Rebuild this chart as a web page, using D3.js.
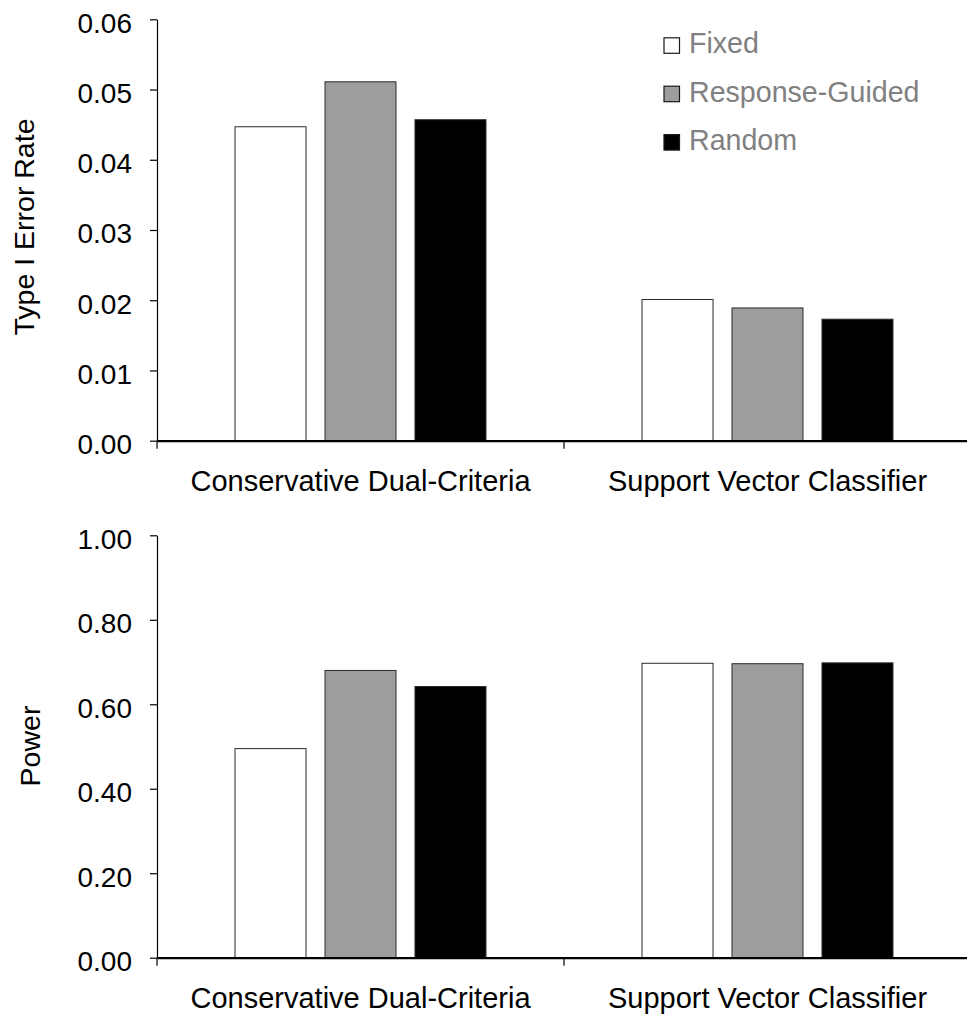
<!DOCTYPE html>
<html>
<head>
<meta charset="utf-8">
<script src="https://cdn.jsdelivr.net/npm/d3@7"></script>
<style>
  html, body { margin: 0; padding: 0; background: #fff; }
  svg { display: block; font-family: "Liberation Sans", Arial, sans-serif; }
</style>
</head>
<body>
<svg id="chart" width="967" height="1015"></svg>
<script>
// ---- data ----
const categories = ["Conservative Dual-Criteria", "Support Vector Classifier"];
const seriesNames = ["Fixed", "Response-Guided", "Random"];
const seriesColors = ["#ffffff", "#9d9d9d", "#000000"];
const typeIErrorFixed = [0.0447, 0.0201];
const typeIErrorResponseGuided = [0.0511, 0.0189];
const typeIErrorRandom = [0.0457, 0.0173];
const powerFixed = [0.495, 0.697];
const powerResponseGuided = [0.680, 0.696];
const powerRandom = [0.642, 0.698];
const typeITicks = [0, 0.01, 0.02, 0.03, 0.04, 0.05, 0.06];
const powerTicks = [0, 0.2, 0.4, 0.6, 0.8, 1.0];

const svg = d3.select("#chart");

const x0 = d3.scaleBand().domain(categories).range([157, 971]).paddingInner(0).paddingOuter(0);
const x1 = d3.scaleBand().domain(seriesNames).range([0, x0.bandwidth()])
  .paddingInner(0.211).paddingOuter(0.867);
const color = d3.scaleOrdinal().domain(seriesNames).range(seriesColors);

function panel(opts) {
  const g = svg.append("g");
  const y = d3.scaleLinear().domain([opts.ticks[0], opts.ticks[opts.ticks.length - 1]])
    .range([opts.y0, opts.y1]);
  const rows = categories.map((c, i) => ({
    cat: c,
    vals: seriesNames.map((s, j) => ({ s: s, v: opts.series[j][i] }))
  }));

  // bars
  g.selectAll("g.grp").data(rows).join("g")
    .attr("class", "grp")
    .attr("transform", d => `translate(${x0(d.cat)},0)`)
    .selectAll("rect").data(d => d.vals).join("rect")
    .attr("x", d => x1(d.s))
    .attr("width", x1.bandwidth())
    .attr("y", d => y(d.v))
    .attr("height", d => y(0) - y(d.v))
    .attr("fill", d => color(d.s))
    .attr("stroke", "#2a2a2a")
    .attr("stroke-width", 1);

  // y axis
  const yAxis = d3.axisLeft(y).tickValues(opts.ticks).tickFormat(d3.format(".2f"))
    .tickSizeInner(7).tickSizeOuter(0).tickPadding(18);
  const ya = g.append("g").attr("transform", "translate(157,0)").call(yAxis);
  ya.select(".domain").attr("stroke", "#000").attr("stroke-width", 1.2);
  ya.selectAll(".tick line").attr("stroke", "#000").attr("stroke-width", 1.2);
  ya.selectAll(".tick text").attr("font-size", 28).attr("fill", "#000")
    .attr("font-family", "Liberation Sans, Arial, sans-serif").attr("dy", "0.46em");

  // x axis
  const xAxis = d3.axisBottom(x0).tickSizeInner(0).tickSizeOuter(0).tickPadding(30);
  const xa = g.append("g").attr("transform", `translate(0,${y(0)})`).call(xAxis);
  xa.select(".domain").attr("stroke", "#000").attr("stroke-width", 2.2);
  xa.selectAll(".tick text").attr("font-size", 29).attr("fill", "#000")
    .attr("font-family", "Liberation Sans, Arial, sans-serif").attr("dy", "0.71em");
  // category boundary ticks
  const bounds = categories.map(c => x0(c));
  xa.selectAll("line.bound").data(bounds).join("line")
    .attr("class", "bound")
    .attr("x1", d => d).attr("x2", d => d)
    .attr("y1", 0).attr("y2", 8)
    .attr("stroke", "#000").attr("stroke-width", 1.2);

  // y title
  g.append("text")
    .attr("transform", `translate(${opts.titleX},${opts.titleY}) rotate(-90)`)
    .attr("text-anchor", "middle")
    .attr("font-size", 28.5)
    .attr("fill", "#000")
    .text(opts.title);
  return y;
}

panel({
  y0: 440.7, y1: 19.3, ticks: typeITicks,
  series: [typeIErrorFixed, typeIErrorResponseGuided, typeIErrorRandom],
  title: "Type I Error Rate", titleX: 33.5, titleY: 227
});
panel({
  y0: 957.7, y1: 535.3, ticks: powerTicks,
  series: [powerFixed, powerResponseGuided, powerRandom],
  title: "Power", titleX: 39.5, titleY: 746
});

// legend
const legend = svg.append("g").attr("transform", "translate(664,0)");
const items = legend.selectAll("g").data(seriesNames).join("g")
  .attr("transform", (d, i) => `translate(0,${53.3 + i * 48.4})`);
items.append("rect")
  .attr("x", 0).attr("y", -15.5).attr("width", 15.5).attr("height", 15.5)
  .attr("fill", d => color(d)).attr("stroke", "#1a1a1a").attr("stroke-width", 1.2);
items.append("text")
  .attr("x", 25).attr("y", 0)
  .attr("font-size", 28.6).attr("fill", "#808080")
  .text(d => d);
</script>
</body>
</html>
